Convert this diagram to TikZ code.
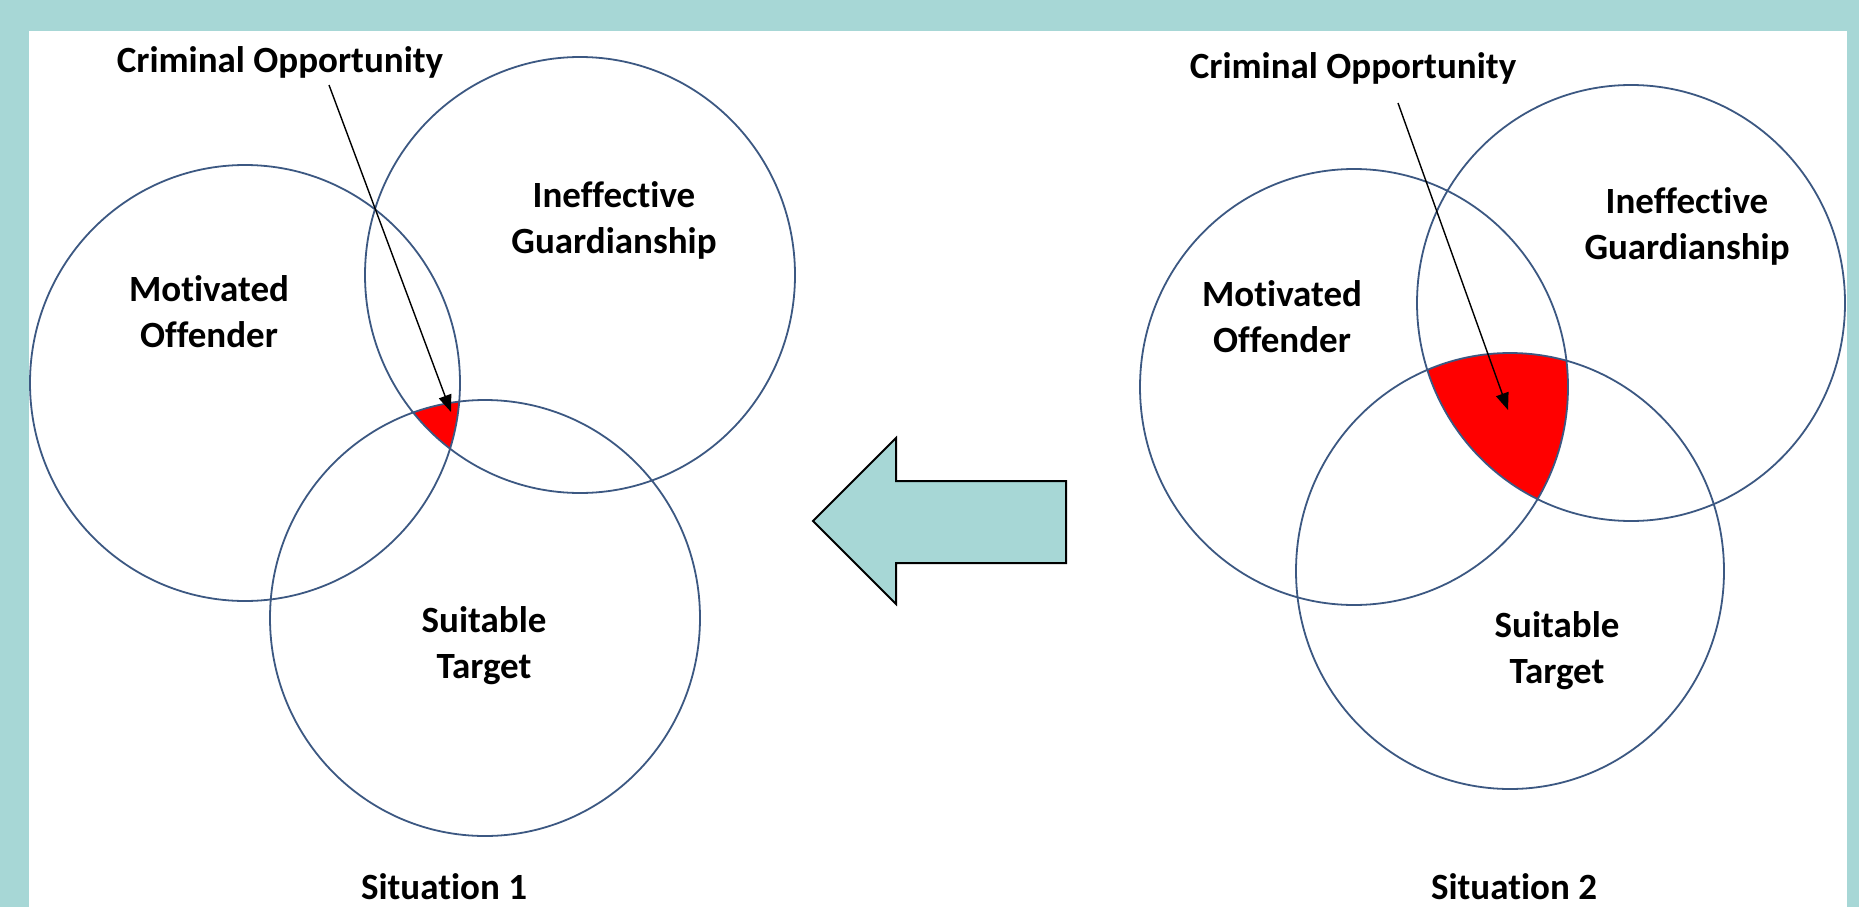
\documentclass[tikz,border=0pt]{standalone}
\usepackage{fontspec}
\setmainfont[Ligatures={NoCommon}]{Carlito}
\usetikzlibrary{arrows.meta}
\definecolor{frameteal}{RGB}{167,215,214}
\definecolor{ringblue}{RGB}{60,88,130}
\definecolor{hotred}{RGB}{255,0,0}
\begin{document}
\begin{tikzpicture}[x=1pt,y=-1pt,
  ring/.style={draw=ringblue,line width=1.8pt},
  lbl/.style={font=\fontsize{37}{46}\selectfont\bfseries,align=center,inner sep=0pt,anchor=base},
  pointer/.style={draw=black,line width=1.4pt,-{Triangle[length=17pt,width=13pt]}},
  bigarrow/.style={fill=frameteal,draw=black,line width=2pt,line join=miter}]
% frame
\useasboundingbox (0,0) rectangle (1859,907);
\fill[frameteal] (0,0) rectangle (1859,907);
\fill[white] (29,31) rectangle (1847,907);
% Situation 1 : overlap
\begin{scope}
  \clip (245,383) ellipse [x radius=215pt,y radius=218pt];
  \clip (580,275) ellipse [x radius=215pt,y radius=218pt];
  \fill[hotred] (485,618) ellipse [x radius=215pt,y radius=218pt];
\end{scope}
% Situation 2 : overlap
\begin{scope}
  \clip (1354,387) ellipse [x radius=214pt,y radius=218pt];
  \clip (1631,303) ellipse [x radius=214pt,y radius=218pt];
  \fill[hotred] (1510,571) ellipse [x radius=214pt,y radius=218pt];
\end{scope}
% rings
\draw[ring] (245,383) ellipse [x radius=215pt,y radius=218pt];
\draw[ring] (580,275) ellipse [x radius=215pt,y radius=218pt];
\draw[ring] (485,618) ellipse [x radius=215pt,y radius=218pt];
\draw[ring] (1354,387) ellipse [x radius=214pt,y radius=218pt];
\draw[ring] (1631,303) ellipse [x radius=214pt,y radius=218pt];
\draw[ring] (1510,571) ellipse [x radius=214pt,y radius=218pt];
% labels (base anchor = baseline of last line)
\node[lbl] (co1) at (280,72) {Criminal Opportunity};
\node[lbl] (ig1) at (614,253) {Ineffective\\Guardianship};
\node[lbl] (mo1) at (209,347) {Motivated\\Offender};
\node[lbl] (st1) at (484,678) {Suitable\\Target};
\node[lbl] (co2) at (1353,78) {Criminal Opportunity};
\node[lbl] (ig2) at (1687,259) {Ineffective\\Guardianship};
\node[lbl] (mo2) at (1282,352) {Motivated\\Offender};
\node[lbl] (st2) at (1557,683) {Suitable\\Target};
\node[lbl] (sit1) at (444,899) {Situation 1};
\node[lbl] (sit2) at (1514,899) {Situation 2};
% pointers
\coordinate (p1s) at (329,85);
\coordinate (p1e) at (451,412);
\coordinate (p2s) at (1398,103);
\coordinate (p2e) at (1508,410);
\draw[pointer] (p1s) -- (p1e);
\draw[pointer] (p2s) -- (p2e);
% big arrow
\draw[bigarrow] (813,521) -- (896,438) -- (896,481) -- (1066,481) -- (1066,563) -- (896,563) -- (896,604) -- cycle;
\end{tikzpicture}
\end{document}
